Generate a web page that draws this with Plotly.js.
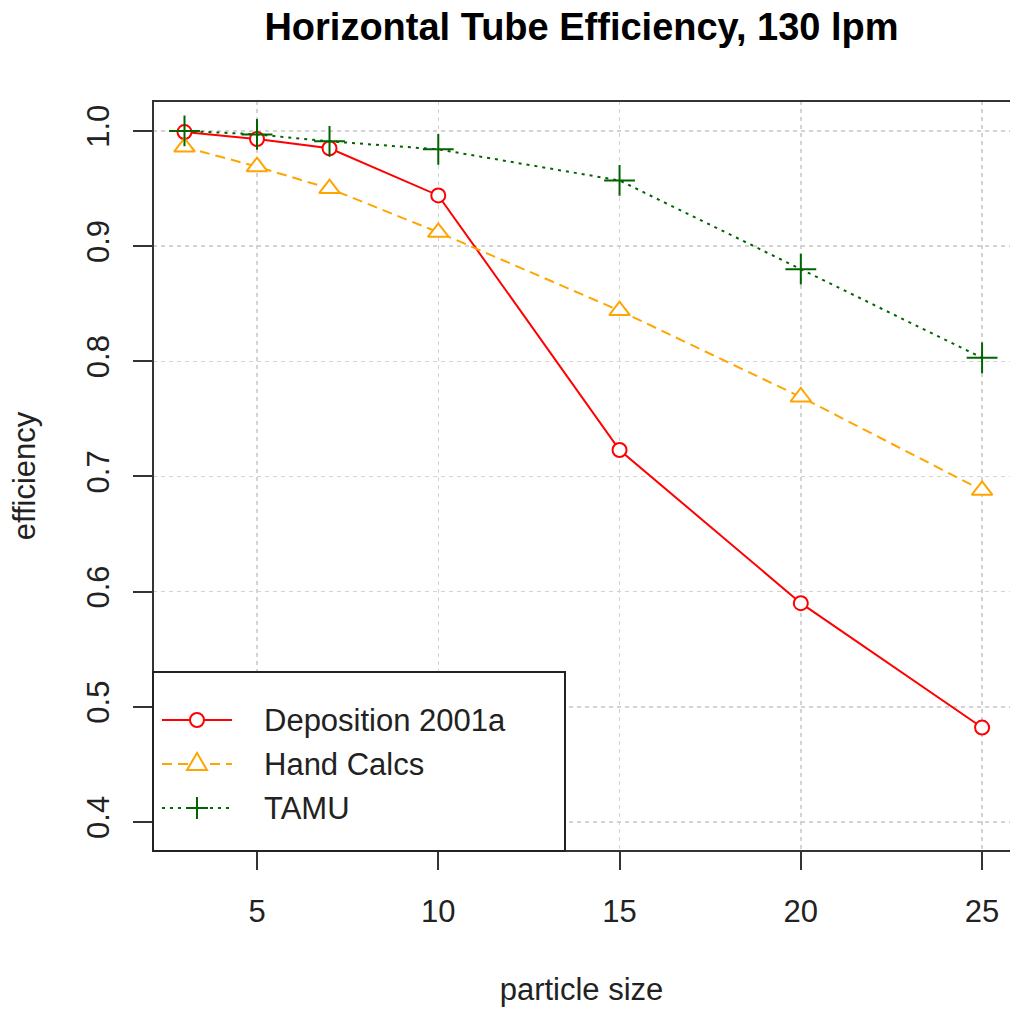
<!DOCTYPE html>
<html>
<head>
<meta charset="utf-8">
<script src="https://cdn.plot.ly/plotly-3.0.1.min.js"></script>
<style>html,body{margin:0;padding:0;background:#fff;}#chart{width:1010px;height:1009px;}</style>
</head>
<body>
<div id="chart"></div>
<script>
// ---- data ----
const particleSize = [3, 5, 7, 10, 15, 20, 25];
const deposition2001a = [0.999, 0.993, 0.985, 0.944, 0.723, 0.590, 0.482];
const handCalcs = [0.986, 0.969, 0.950, 0.912, 0.844, 0.769, 0.688];
const tamu = [1.000, 0.997, 0.991, 0.984, 0.957, 0.880, 0.803];
const seriesNames = ["Deposition 2001a", "Hand Calcs", "TAMU"];
const xTicks = [5, 10, 15, 20, 25];
const yTicks = [0.4, 0.5, 0.6, 0.7, 0.8, 0.9, 1.0];

const FONT = "Liberation Sans, Arial, Helvetica, sans-serif";
const colors = ["#FF0000", "#FFA500", "#006400"];
const dashes = ["solid", "10px,6px", "3px,5px"];

const traces = [
  {x: particleSize, y: deposition2001a, name: seriesNames[0], mode: "lines+markers",
   line: {color: colors[0], width: 2, dash: dashes[0]},
   marker: {symbol: "circle", size: 14, color: "#ffffff", line: {color: colors[0], width: 2}}},
  {x: particleSize, y: handCalcs, name: seriesNames[1], mode: "lines+markers",
   line: {color: colors[1], width: 2, dash: dashes[1]},
   marker: {symbol: "triangle-up", size: 18, color: "#ffffff", line: {color: colors[1], width: 2}}},
  {x: particleSize, y: tamu, name: seriesNames[2], mode: "lines+markers",
   line: {color: colors[2], width: 2, dash: dashes[2]},
   marker: {symbol: "cross-thin-open", size: 22, color: colors[2], line: {color: colors[2], width: 2}}}
].map(t => Object.assign(t, {showlegend: false, type: "scatter"}));

// legend geometry (paper coords)
const W = 857, H = 750;
const px = x => (x - 153) / W;
const py = y => (851 - y) / H;
const rowsY = [720, 764, 808].map(py);
const lx0 = px(162), lx1 = px(232), mx = px(197), tx = px(262);

const shapes = [
  {type: "rect", xref: "paper", yref: "paper", x0: 0, x1: 1.05, y0: 0, y1: 1,
   line: {color: "#333", width: 2}, fillcolor: "rgba(0,0,0,0)", layer: "above"},
  {type: "rect", xref: "paper", yref: "paper", x0: 0, x1: px(565), y0: 0, y1: py(672),
   line: {color: "#222", width: 2}, fillcolor: "#ffffff", layer: "above"}
];
const annotations = [];
seriesNames.forEach((name, i) => {
  shapes.push({type: "line", xref: "paper", yref: "paper", x0: lx0, x1: lx1, y0: rowsY[i], y1: rowsY[i],
    line: {color: colors[i], width: 2, dash: dashes[i]}, layer: "above"});
  annotations.push({xref: "paper", yref: "paper", x: tx, y: rowsY[i], xanchor: "left", yanchor: "middle",
    text: name, showarrow: false, font: {family: FONT, size: 31, color: "#222"}});
});
const mk = {xref: "paper", yref: "paper", xsizemode: "pixel", ysizemode: "pixel", layer: "above"};
shapes.push(Object.assign({type: "circle", xanchor: mx, yanchor: rowsY[0], x0: -7, x1: 7, y0: -7, y1: 7,
  line: {color: colors[0], width: 2}, fillcolor: "#ffffff"}, mk));
shapes.push(Object.assign({type: "path", xanchor: mx, yanchor: rowsY[1], path: "M-10,-6 L10,-6 L0,11 Z",
  line: {color: colors[1], width: 2}, fillcolor: "#ffffff"}, mk));
shapes.push(Object.assign({type: "path", xanchor: mx, yanchor: rowsY[2], path: "M-11,0 L11,0 M0,-11 L0,11",
  line: {color: colors[2], width: 2}}, mk));

const layout = {
  width: 1010, height: 1009,
  margin: {l: 153, r: 0, t: 101, b: 158, pad: 0},
  paper_bgcolor: "#ffffff", plot_bgcolor: "#ffffff",
  font: {family: FONT, size: 31, color: "#222"},
  title: {text: "<b>Horizontal Tube Efficiency, 130 lpm</b>", font: {family: FONT, size: 38, color: "#000"},
    xref: "paper", x: 0.5, xanchor: "center", yref: "container", y: 1 - 27 / 1009, yanchor: "middle"},
  xaxis: {range: [2.131, 25.77], tickvals: xTicks, ticktext: xTicks.map(String),
    ticks: "outside", ticklen: 18, tickwidth: 2, tickcolor: "#333",
    showgrid: true, gridcolor: "#d3d3d3", gridwidth: 1.5, griddash: "4px,4px",
    zeroline: false, showline: false, ticklabelstandoff: 15,
    tickfont: {family: FONT, size: 31, color: "#222"},
    title: {text: "particle size", font: {family: FONT, size: 31, color: "#222"}, standoff: 50},
    automargin: false},
  yaxis: {range: [0.3748, 1.026], tickvals: yTicks, ticktext: yTicks.map(v => v.toFixed(1)),
    ticks: "outside", ticklen: 19, tickwidth: 2, tickcolor: "#333", tickangle: -90,
    showgrid: true, gridcolor: "#d3d3d3", gridwidth: 1.5, griddash: "4px,4px",
    zeroline: false, showline: false, ticklabelstandoff: 12,
    tickfont: {family: FONT, size: 31, color: "#222"},
    title: {text: "efficiency", font: {family: FONT, size: 31, color: "#222"}, standoff: 35},
    automargin: false},
  shapes: shapes,
  annotations: annotations
};

Plotly.newPlot("chart", traces, layout, {displayModeBar: false, staticPlot: true});
</script>
</body>
</html>
